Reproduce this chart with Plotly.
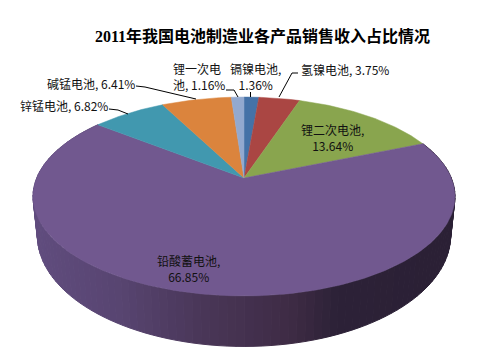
import numpy as np
import plotly.graph_objects as go

categories = ["镉镍电池", "氢镍电池", "锂二次电池", "铅酸蓄电池", "锌锰电池", "碱锰电池", "锂一次电池"]
shares = [1.36, 3.75, 13.64, 66.85, 6.82, 6.41, 1.16]
colors = ["#4572a7", "#aa4643", "#89a54e", "#71588f", "#4198af", "#db843d", "#93a9cf"]
title = "2011年我国电池制造业各产品销售收入占比情况"

CX, APEX_TOP, APEX_BOT = 244.0, 178.0, 215.0
R_TOP, S_TOP, R_BOT, S_BOT, K = 207.3, 96.0, 203.0, 107.0, 0.186


def rim(theta, r, s, apex):
    u, v = np.sin(theta), -np.cos(theta)
    w = 1 - K * v
    return CX + r * u / w, apex + s * v / w


fig = go.Figure()
edges = np.cumsum([0.0] + shares) / sum(shares) * 2 * np.pi

# side wall of the largest slice, shaded left-to-right
stops = [(32, "#614d7f"), (120, "#584571"), (200, "#4a3759"), (290, "#3f2c45"), (335, "#2d2238"), (455, "#2b2035")]
xs_s = [a for a, _ in stops]
rgb = np.array([[int(c[i:i + 2], 16) for i in (1, 3, 5)] for _, c in stops], dtype=float)
wall = np.linspace(edges[3], edges[4], 121)
for a, b in zip(wall[:-1], wall[1:]):
    tx0, ty0 = rim(a, R_TOP, S_TOP, APEX_TOP)
    tx1, ty1 = rim(b, R_TOP, S_TOP, APEX_TOP)
    bx0, by0 = rim(a, R_BOT, S_BOT, APEX_BOT)
    bx1, by1 = rim(b, R_BOT, S_BOT, APEX_BOT)
    mid = (tx0 + tx1 + bx0 + bx1) / 4
    col = [np.interp(mid, xs_s, rgb[:, i]) for i in range(3)]
    c = "rgb(%d,%d,%d)" % tuple(col)
    fig.add_trace(go.Scatter(x=[tx0, tx1, bx1, bx0, tx0], y=[ty0, ty1, by1, by0, ty0], mode="lines",
                             fill="toself", fillcolor=c, line=dict(color=c, width=1), hoverinfo="skip"))

# top faces
for i, name in enumerate(categories):
    t = np.linspace(edges[i], edges[i + 1], max(6, int(shares[i] * 4)))
    x, y = rim(t, R_TOP, S_TOP, APEX_TOP)
    fig.add_trace(go.Scatter(x=np.r_[CX, x, CX], y=np.r_[APEX_TOP, y, APEX_TOP], mode="lines", name=name,
                             fill="toself", fillcolor=colors[i], line=dict(color=colors[i], width=0.5), hoverinfo="skip"))

# leader lines
leaders = {
    0: [(250.5, 97), (250.5, 92)],
    1: [(279, 97), (292, 73), (298, 73)],
    4: [(128, 114), (118, 110), (109, 109)],
    5: [(196, 99), (145, 87), (136, 86)],
    6: [(238, 97), (234, 90), (226, 90)],
}
for pts in leaders.values():
    fig.add_trace(go.Scatter(x=[p[0] for p in pts], y=[p[1] for p in pts], mode="lines",
                             line=dict(color="#000000", width=1), hoverinfo="skip"))

labels = {
    0: (255, 76, "center", "{n},<br>{v}%"),
    1: (345, 69, "center", "{n}, {v}%"),
    2: (332, 137, "center", "{n},<br>{v}%"),
    3: (188, 268, "center", "{n},<br>{v}%"),
    4: (64, 105, "center", "{n}, {v}%"),
    5: (91, 83, "center", "{n}, {v}%"),
    6: (199, 76, "left", None),
}
for i, (x, y, al, fmt) in labels.items():
    if fmt is None:
        text = categories[i][:4] + "<br>" + categories[i][4:] + ", %.2f%%" % shares[i]
    else:
        text = fmt.format(n=categories[i], v="%.2f" % shares[i])
    fig.add_annotation(x=x, y=y, text=text, showarrow=False, xanchor="center", yanchor="middle", align=al,
                       font=dict(family="'Liberation Sans Narrow','Noto Sans CJK SC',sans-serif", size=12, color="#111111"))

fig.add_annotation(x=262, y=36, text="<b>" + title + "</b>", showarrow=False,
                   font=dict(family="'Liberation Serif','Noto Sans CJK SC',serif", size=16, color="#000000"))

fig.update_layout(width=478, height=358, margin=dict(l=0, r=0, t=0, b=0), showlegend=False,
                  paper_bgcolor="white", plot_bgcolor="white",
                  xaxis=dict(range=[0, 478], visible=False, fixedrange=True),
                  yaxis=dict(range=[358, 0], visible=False, fixedrange=True))
fig.write_html("out.html", config=dict(displayModeBar=False),
               post_script="document.body.style.margin='0';")
